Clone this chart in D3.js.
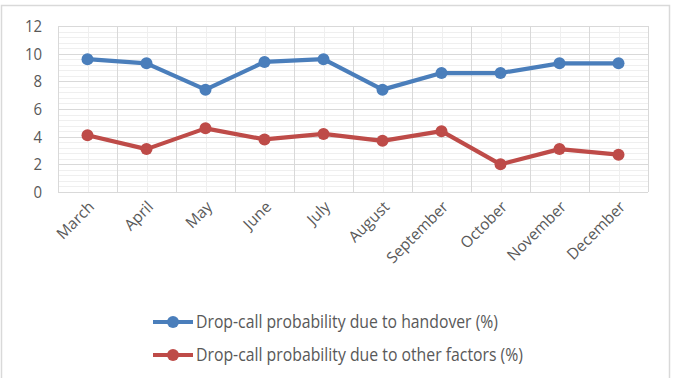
<!DOCTYPE html>
<html><head><meta charset="utf-8">
<script src="https://cdn.jsdelivr.net/npm/d3@7"></script>
<style>html,body{margin:0;padding:0;background:#fff;}svg{display:block;}</style>
</head><body>
<svg id="c" width="676" height="378"></svg>
<script>
const months = ["March","April","May","June","July","August","September","October","November","December"];
const handover = [9.6,9.3,7.4,9.4,9.6,7.4,8.6,8.6,9.3,9.3];
const otherFactors = [4.1,3.1,4.6,3.8,4.2,3.7,4.4,2.0,3.1,2.7];
const yTicks = [0,2,4,6,8,10,12];
const seriesNames = ["Drop-call probability due to handover (%)","Drop-call probability due to other factors (%)"];
const seriesColors = ["#4a7ebb","#be4b48"];

const svg = d3.select("#c");
svg.append("rect").attr("x",1.5).attr("y",5.5).attr("width",668).attr("height",380)
  .attr("fill","#fff").attr("stroke","#d9d9d9").attr("stroke-width",1.5);

const L=58, R=648, T=26, B=192;
const x = d3.scaleBand().domain(months).range([L,R]);
const y = d3.scaleLinear().domain([0,12]).range([B,T]);
const g = svg.append("g");

g.selectAll(".hmin").data(d3.range(0,12.001,0.4)).enter().append("line")
  .attr("x1",L).attr("x2",R).attr("y1",d=>Math.round(y(d))+0.5).attr("y2",d=>Math.round(y(d))+0.5)
  .attr("stroke","#efefef").attr("stroke-width",1);
g.selectAll(".vmin").data(months).enter().append("line")
  .attr("x1",d=>Math.round(x(d)+x.bandwidth()/2)+0.5).attr("x2",d=>Math.round(x(d)+x.bandwidth()/2)+0.5)
  .attr("y1",T).attr("y2",B).attr("stroke","#efefef");
g.selectAll(".hmaj").data(yTicks).enter().append("line")
  .attr("x1",L).attr("x2",R).attr("y1",d=>Math.round(y(d))+0.5).attr("y2",d=>Math.round(y(d))+0.5)
  .attr("stroke","#d9d9d9");
g.selectAll(".vmaj").data(months.concat(["__end"])).enter().append("line")
  .attr("x1",(d,i)=>Math.round(L+i*x.step())+0.5).attr("x2",(d,i)=>Math.round(L+i*x.step())+0.5)
  .attr("y1",T).attr("y2",B).attr("stroke","#d9d9d9");

// y labels
g.selectAll(".yl").data(yTicks).enter().append("text")
  .attr("transform",d=>`translate(42,${y(d)}) scale(0.88,1)`).attr("dy","0.36em").attr("text-anchor","end")
  .attr("font-family","Open Sans").attr("font-size",17).attr("fill","#595959").text(d=>d);

// x labels
g.selectAll(".xl").data(months).enter().append("text")
  .attr("transform",d=>`translate(${x(d)+x.bandwidth()/2+4},${204}) rotate(-45)`)
  .attr("text-anchor","end").attr("dy","0.35em")
  .attr("font-family","Open Sans").attr("font-size",15.5).attr("fill","#595959").text(d=>d);

const line = d3.line().x((d,i)=>x(months[i])+x.bandwidth()/2).y(d=>y(d));
[handover, otherFactors].forEach((s,k)=>{
  g.append("path").datum(s).attr("d",line).attr("fill","none")
    .attr("stroke",seriesColors[k]).attr("stroke-width",4.2).attr("stroke-linejoin","round").attr("stroke-linecap","round");
  g.selectAll(".m"+k).data(s).enter().append("circle")
    .attr("cx",(d,i)=>x(months[i])+x.bandwidth()/2).attr("cy",d=>y(d)).attr("r",6)
    .attr("fill",seriesColors[k]);
});

// legend
const ly = [322, 355];
const textLens = [302, 327];
seriesNames.forEach((n,k)=>{
  svg.append("line").attr("x1",153).attr("x2",193).attr("y1",ly[k]).attr("y2",ly[k])
    .attr("stroke",seriesColors[k]).attr("stroke-width",4);
  svg.append("circle").attr("cx",173).attr("cy",ly[k]).attr("r",6).attr("fill",seriesColors[k]);
  svg.append("text").attr("x",196).attr("y",ly[k]).attr("dy","0.36em")
    .attr("font-family","Open Sans").attr("font-size",18).attr("fill","#595959")
    .attr("textLength",textLens[k]).attr("lengthAdjust","spacingAndGlyphs").text(n);
});
</script>
</body></html>
